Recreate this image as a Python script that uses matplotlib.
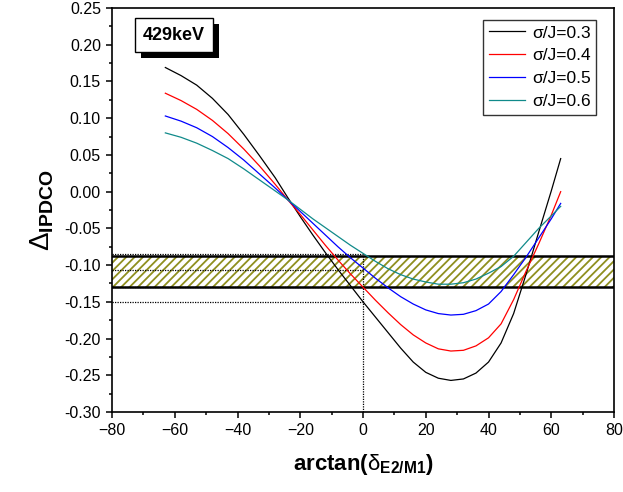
import matplotlib
matplotlib.use("Agg")
import matplotlib.pyplot as plt
import matplotlib.patheffects as pe
from matplotlib.ticker import MultipleLocator

plt.rcParams['font.family'] = ['Liberation Sans', 'DejaVu Sans']
plt.rcParams['mathtext.fontset'] = 'custom'
plt.rcParams['mathtext.rm'] = 'Liberation Sans'
plt.rcParams['mathtext.it'] = 'Liberation Sans:italic'
plt.rcParams['mathtext.bf'] = 'Liberation Sans:bold'
plt.rcParams['hatch.linewidth'] = 1.3

# ---- data ----
angle = [-63, -58, -53, -48, -43, -38, -33, -28, -24, -20, -16, -12, -8, -4, 0,
         4, 8, 12, 16, 20, 24, 28, 32, 36, 40, 44, 48, 52, 56, 60, 63]

sigma03 = [0.169, 0.158, 0.145, 0.127, 0.105, 0.078, 0.049, 0.019, -0.008, -0.034,
           -0.059, -0.083, -0.106, -0.128, -0.150, -0.171, -0.192, -0.213, -0.232,
           -0.246, -0.254, -0.257, -0.255, -0.247, -0.232, -0.206, -0.166, -0.112,
           -0.055, 0.001, 0.045]
sigma04 = [0.134, 0.124, 0.112, 0.097, 0.079, 0.058, 0.035, 0.010, -0.011, -0.031,
           -0.052, -0.073, -0.093, -0.112, -0.130, -0.148, -0.165, -0.181, -0.195,
           -0.206, -0.214, -0.217, -0.216, -0.210, -0.199, -0.180, -0.147, -0.108,
           -0.071, -0.032, 0.000]
sigma05 = [0.103, 0.096, 0.087, 0.075, 0.060, 0.043, 0.024, 0.005, -0.011, -0.027,
           -0.043, -0.059, -0.075, -0.090, -0.104, -0.118, -0.131, -0.143, -0.153,
           -0.161, -0.166, -0.168, -0.167, -0.162, -0.153, -0.136, -0.113, -0.089,
           -0.063, -0.037, -0.016]
sigma06 = [0.080, 0.074, 0.066, 0.056, 0.045, 0.031, 0.016, 0.001, -0.011, -0.024,
           -0.037, -0.049, -0.061, -0.073, -0.084, -0.095, -0.105, -0.113, -0.119,
           -0.123, -0.126, -0.126, -0.124, -0.119, -0.111, -0.102, -0.088, -0.069,
           -0.050, -0.033, -0.020]

series_labels = ['σ/J=0.3', 'σ/J=0.4', 'σ/J=0.5', 'σ/J=0.6']
series_colors = ['#000000', '#ff0000', '#0000ff', '#108a8a']

band_low, band_high = -0.130, -0.088          # experimental value band
proj_levels = [-0.085, -0.106, -0.130, -0.150]  # projections at arctan(delta)=0
proj_x = 0
energy_label = '429keV'

xticks = [-80, -60, -40, -20, 0, 20, 40, 60, 80]
yticks = [0.25, 0.20, 0.15, 0.10, 0.05, 0.00, -0.05, -0.10, -0.15, -0.20, -0.25, -0.30]

# ---- figure ----
fig = plt.figure(figsize=(6.23, 4.92), dpi=100)
ax = fig.add_axes([0.1798, 0.1626, 0.8058, 0.8211])

ax.axhspan(band_low, band_high, facecolor='none', edgecolor='#8f8f1f',
           hatch='////', linewidth=0, zorder=1)
ax.axhline(band_high, color='black', lw=1.8, zorder=2)
ax.axhline(band_low, color='black', lw=1.8, zorder=2)

ax.hlines(proj_levels, xmin=-80, xmax=proj_x, colors='black',
          linestyles=(0, (1, 1)), lw=0.9, zorder=3)
ax.vlines(proj_x, -0.30, max(proj_levels), colors='black',
          linestyles=(0, (1, 1)), lw=0.9, zorder=3)

for vals, lab, col in zip([sigma03, sigma04, sigma05, sigma06], series_labels, series_colors):
    ax.plot(angle, vals, color=col, lw=0.9, label=lab, zorder=4)

ax.set_xlim(-80, 80)
ax.set_ylim(-0.30, 0.25)
ax.set_xticks(xticks)
ax.set_yticks(yticks)
ax.set_yticklabels([f'{v:.2f}' for v in yticks])
ax.xaxis.set_minor_locator(MultipleLocator(10))
ax.yaxis.set_minor_locator(MultipleLocator(0.025))
ax.tick_params(which='major', direction='out', length=4.5, width=1.1, labelsize=11.5)
ax.tick_params(which='minor', direction='out', length=2.5, width=1.1)
for s in ax.spines.values():
    s.set_linewidth(1.2)

ax.set_xlabel(r'arctan($\mathrm{\delta}_{\mathbf{E2/M1}}$)', fontsize=16,
              fontweight='bold', labelpad=10)
ax.set_ylabel(r'$\Delta_{\mathbf{IPDCO}}$', fontsize=20, labelpad=6)

leg = ax.legend(loc='upper right', bbox_to_anchor=(0.964, 0.970), borderaxespad=0,
                fontsize=12.5, frameon=True, fancybox=False, handlelength=2.1,
                handletextpad=0.4, labelspacing=0.45, borderpad=0.3)
leg.get_frame().set_edgecolor('black')
leg.get_frame().set_linewidth(1.0)

t = ax.text(0.1235, 0.933, energy_label, transform=ax.transAxes, fontsize=13,
            fontweight='bold', ha='center', va='center', zorder=6,
            bbox=dict(boxstyle='square,pad=0.45', fc='white', ec='black', lw=1.0))
t.get_bbox_patch().set_path_effects([
    pe.SimplePatchShadow(offset=(4.2, -4.2), shadow_rgbFace='black', alpha=1.0),
    pe.Normal()])

fig.savefig('out.png', dpi=100)
